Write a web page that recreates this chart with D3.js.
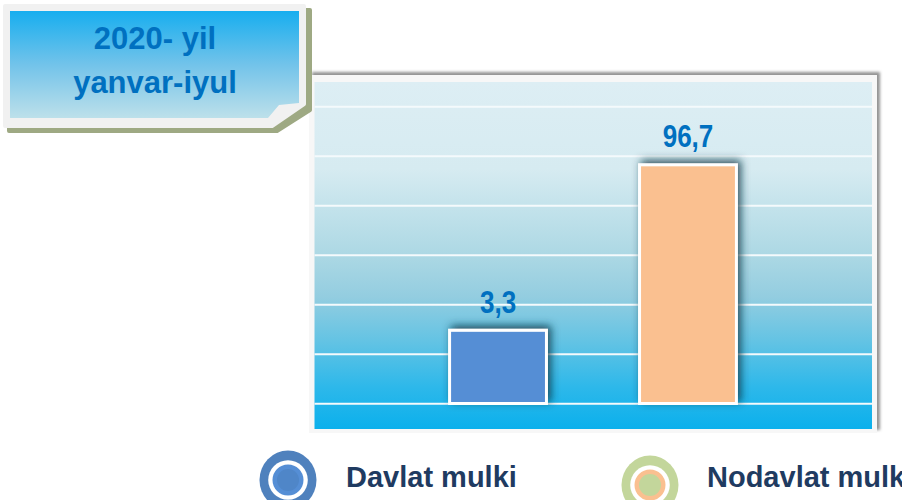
<!DOCTYPE html>
<html>
<head>
<meta charset="utf-8">
<script src="https://d3js.org/d3.v7.min.js"></script>
<style>
  html, body { margin: 0; padding: 0; background: #fff; }
  svg { display: block; font-family: "Liberation Sans", Arial, sans-serif; }
</style>
</head>
<body>
<svg id="chart" width="902" height="500"></svg>
<script>
// data
const categories = ["Davlat mulki", "Nodavlat mulki"];
const values = [3.3, 96.7];
const valueLabels = ["3,3", "96,7"];
const barColors = ["#558ed5", "#fac090"];
const titleLines = ["2020- yil", "yanvar-iyul"];
const gridTicks = [0, 1, 2, 3, 4, 5, 6];

const svg = d3.select("svg#chart");
const defs = svg.append("defs");

// gradients + filters
const plotGrad = defs.append("linearGradient").attr("id", "plotGrad")
    .attr("x1", 0).attr("y1", 0).attr("x2", 0).attr("y2", 1);
[[0, "#ddeef4"], [0.25, "#d6ebf1"], [0.5, "#acd8e4"], [0.62, "#93cde0"],
 [0.75, "#62c3e4"], [0.88, "#2db8ea"], [1, "#0bb0ec"]]
  .forEach(s => plotGrad.append("stop").attr("offset", s[0]).attr("stop-color", s[1]));

const titleGrad = defs.append("linearGradient").attr("id", "titleGrad")
    .attr("x1", 0).attr("y1", 0).attr("x2", 0).attr("y2", 1);
[[0, "#17aeef"], [0.5, "#72c3ea"], [1, "#bde0ea"]]
  .forEach(s => titleGrad.append("stop").attr("offset", s[0]).attr("stop-color", s[1]));

defs.append("filter").attr("id", "panelShadow").attr("x", "-5%").attr("y", "-5%")
    .attr("width", "110%").attr("height", "110%")
  .append("feDropShadow").attr("dx", 3).attr("dy", -3).attr("stdDeviation", 1.5)
    .attr("flood-color", "#777").attr("flood-opacity", 0.8);

defs.append("filter").attr("id", "barShadow").attr("x", "-30%").attr("y", "-30%")
    .attr("width", "160%").attr("height", "160%")
  .append("feDropShadow").attr("dx", 3).attr("dy", -3).attr("stdDeviation", 4)
    .attr("flood-color", "#0b3444").attr("flood-opacity", 0.85);

// plot panel
svg.append("rect").attr("x", 309).attr("y", 75).attr("width", 568).attr("height", 358)
    .attr("fill", "#f7f7f7").attr("filter", "url(#panelShadow)");
svg.append("rect").attr("x", 314.5).attr("y", 82).attr("width", 557.5).attr("height", 347)
    .attr("fill", "url(#plotGrad)");

// scales
const x = d3.scaleBand().domain(categories).range([356.5, 829.5]).padding(0.49);
const y = d3.scalePow().exponent(0.35).domain([0, 100]).range([403.5, 162]);
const gy = d3.scaleLinear().domain([-0.5, 6.5]).range([428.5, 82]);

svg.append("g").selectAll("line").data(gridTicks).join("line")
    .attr("x1", 314.5).attr("x2", 872)
    .attr("y1", d => gy(d)).attr("y2", d => gy(d))
    .attr("stroke", "#f4fafc").attr("stroke-width", 2);

// bars
svg.append("g").selectAll("rect").data(values).join("rect")
    .attr("x", (d, i) => x(categories[i]))
    .attr("width", x.bandwidth())
    .attr("y", d => y(d))
    .attr("height", d => y(0) - y(d))
    .attr("fill", (d, i) => barColors[i])
    .attr("stroke", "#fff").attr("stroke-width", 3)
    .attr("filter", "url(#barShadow)");

// value labels (narrow bold)
svg.append("g").selectAll("text").data(values).join("text")
    .attr("transform", (d, i) => `translate(${x(categories[i]) + x.bandwidth() / 2},${y(d) - 17.5}) scale(0.84,1)`)
    .attr("text-anchor", "middle")
    .attr("font-size", 31).attr("font-weight", "bold")
    .attr("fill", "#0070c0")
    .text((d, i) => valueLabels[i]);

// title box
const tb = svg.append("g");
tb.append("path")
    .attr("d", "M9,10 H310 V110 L277,131 H9 Z")
    .attr("fill", "#9ea983")
    .attr("stroke", "#9ea983").attr("stroke-width", 4).attr("stroke-linejoin", "round");
tb.append("path")
    .attr("d", "M5,6 H304 V104 L272,126 H5 Z")
    .attr("fill", "#f1f1f1")
    .attr("stroke", "#f1f1f1").attr("stroke-width", 4).attr("stroke-linejoin", "round");
tb.append("path")
    .attr("d", "M10,11 H299 V103 L279,105 L268,118 H10 Z")
    .attr("fill", "url(#titleGrad)");
tb.selectAll("text").data(titleLines).join("text")
    .attr("x", 155).attr("y", (d, i) => 49 + i * 44)
    .attr("text-anchor", "middle")
    .attr("font-size", 31).attr("font-weight", "bold")
    .attr("fill", "#0070c0")
    .text(d => d);

// legend
const legendPos = [{cx: 288, cy: 480, tx: 346}, {cx: 650, cy: 485, tx: 707}];
const legendRing = ["#4f81bd", "#c3d69b"];
const legendCore = ["#4f86c8", "#c3d69b"];
const lg = svg.append("g").selectAll("g").data(categories).join("g");
lg.append("ellipse").attr("cx", (d, i) => legendPos[i].cx).attr("cy", (d, i) => legendPos[i].cy)
    .attr("rx", 28.5).attr("ry", 29.5).attr("fill", (d, i) => legendRing[i]);
lg.append("circle").attr("cx", (d, i) => legendPos[i].cx).attr("cy", (d, i) => legendPos[i].cy)
    .attr("r", 19.8).attr("fill", "#fff");
lg.append("circle").attr("cx", (d, i) => legendPos[i].cx).attr("cy", (d, i) => legendPos[i].cy)
    .attr("r", 15.5).attr("fill", (d, i) => barColors[i]);
lg.append("circle").attr("cx", (d, i) => legendPos[i].cx).attr("cy", (d, i) => legendPos[i].cy)
    .attr("r", 11).attr("fill", (d, i) => legendCore[i]);
lg.append("text").attr("x", (d, i) => legendPos[i].tx).attr("y", 487)
    .attr("font-size", 29).attr("font-weight", "bold")
    .attr("fill", "#1f3b61")
    .text(d => d);
</script>
</body>
</html>
